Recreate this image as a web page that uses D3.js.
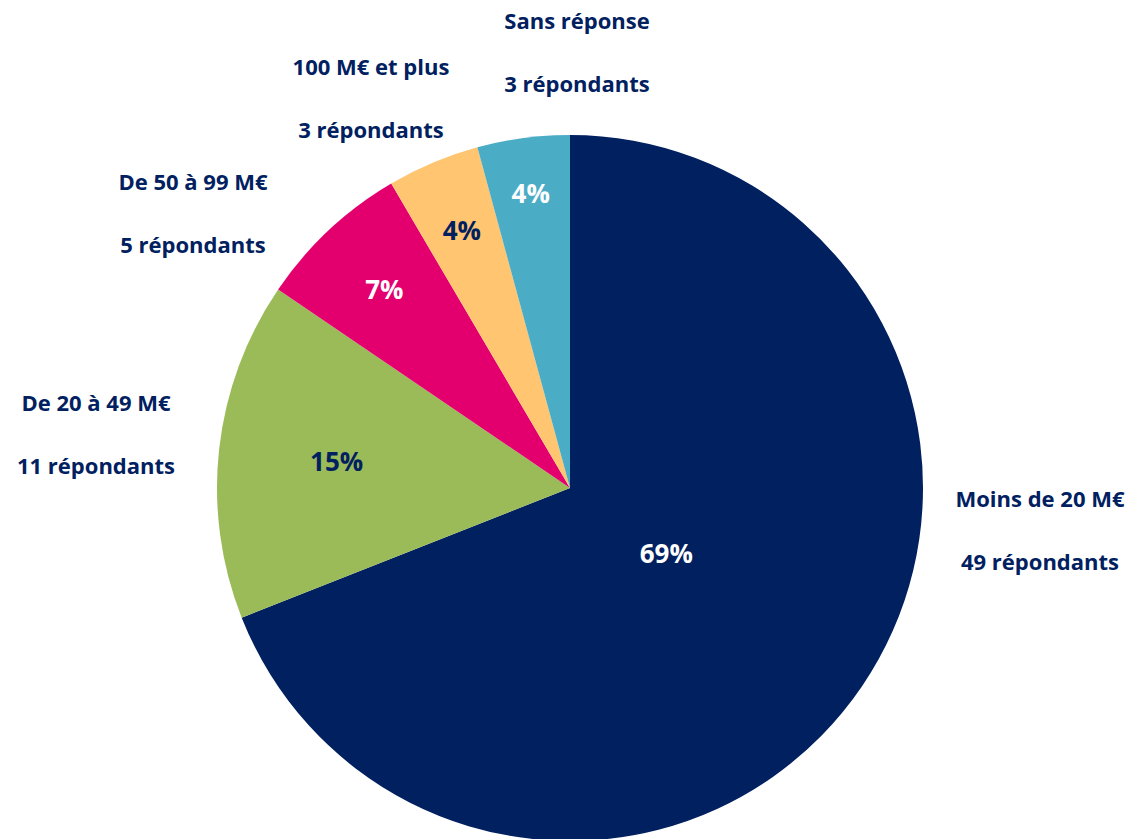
<!DOCTYPE html>
<html><head><meta charset="utf-8">
<script src="https://cdn.jsdelivr.net/npm/d3@7"></script>
<style>html,body{margin:0;padding:0;background:#fff;overflow:hidden}</style>
</head><body>
<svg id="c" width="1135" height="839"></svg>
<script>
const categories = ["Moins de 20 M€", "De 20 à 49 M€", "De 50 à 99 M€", "100 M€ et plus", "Sans réponse"];
const respondents = [49, 11, 5, 3, 3];
const percentLabels = ["69%", "15%", "7%", "4%", "4%"];
const countLabels = ["49 répondants", "11 répondants", "5 répondants", "3 répondants", "3 répondants"];

const colors = ["#002060", "#9BBB59", "#E3006E", "#FFC570", "#4BACC6"];
const pctColors = ["#ffffff", "#002060", "#ffffff", "#002060", "#ffffff"];
const pctRadius = [0.33, 0.665, 0.77, 0.79, 0.84];
const catPos = [[1040, 507], [96, 411], [193, 190], [371, 75], [577, 29]];
const lineGap = 63;

const svg = d3.select("#c");
const cx = 570, cy = 488, R = 353;
const g = svg.append("g").attr("transform", `translate(${cx},${cy})`);
const pie = d3.pie().sort(null).value(d => d)(respondents);
const arc = d3.arc().innerRadius(0).outerRadius(R);
g.selectAll("path").data(pie).join("path")
  .attr("d", arc).attr("fill", (d, i) => colors[i]);

g.selectAll("text.pct").data(pie).join("text")
  .attr("class", "pct")
  .attr("transform", (d, i) => {
    const a = (d.startAngle + d.endAngle) / 2;
    const r = R * pctRadius[i];
    return `translate(${Math.sin(a) * r},${-Math.cos(a) * r})`;
  })
  .attr("text-anchor", "middle").attr("dy", "0.36em")
  .attr("font-family", "'Open Sans', Lato, sans-serif").attr("font-weight", "bold")
  .attr("font-size", 26).attr("fill", (d, i) => pctColors[i])
  .text((d, i) => percentLabels[i]);

const lab = svg.append("g");
categories.forEach((c, i) => {
  const [x, y] = catPos[i];
  const t = lab.append("text").attr("text-anchor", "middle")
    .attr("font-family", "'Open Sans', Lato, sans-serif").attr("font-weight", "bold")
    .attr("font-size", 22).attr("fill", "#002060");
  t.append("tspan").attr("x", x).attr("y", y).text(c);
  t.append("tspan").attr("x", x).attr("y", y + lineGap).text(countLabels[i]);
});
</script>
</body></html>
